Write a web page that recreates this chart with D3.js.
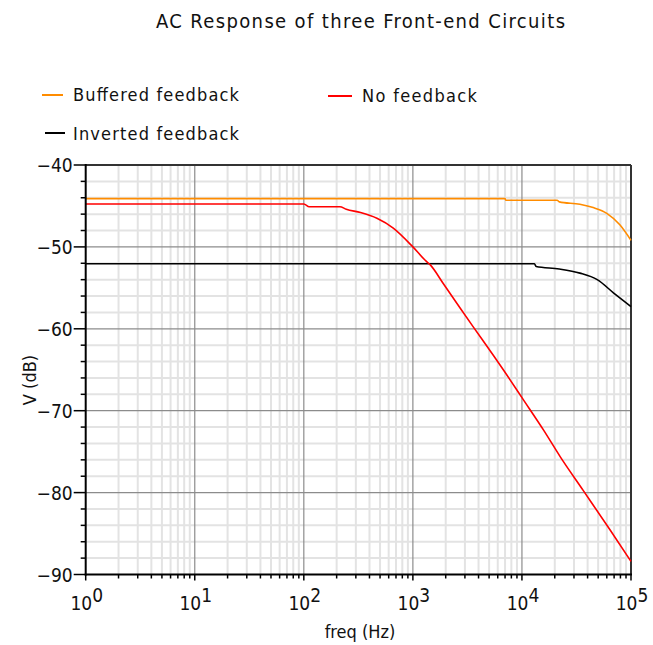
<!DOCTYPE html>
<html>
<head>
<meta charset="utf-8">
<script src="https://cdn.jsdelivr.net/npm/d3@7"></script>
<style>
  body { margin: 0; background: #fff; }
  text { font-family: "DejaVu Sans Condensed", "DejaVu Sans", sans-serif; fill: #111; }
</style>
</head>
<body>
<svg id="chart" width="653" height="645"></svg>
<script>
// series (freq in Hz, level in dB)
const bufferedFreq = [1, 7000, 7100, 21000, 22000, 34000, 45000, 60000, 79000, 100000];
const bufferedDb = [-44.1, -44.1, -44.3, -44.3, -44.5, -44.8, -45.2, -45.9, -47.3, -49.2];

const invertedFreq = [1, 13000, 13500, 22000, 34000, 49000, 69000, 100000];
const invertedDb = [-52.05, -52.05, -52.4, -52.7, -53.2, -54.0, -55.6, -57.3];

const noFbFreq = [1, 100, 112, 214, 245, 331, 468, 661, 1000, 1290, 1445, 1905, 2690, 3550,
                  5500, 7760, 10000, 15850, 22400, 36300, 64600, 100000];
const noFbDb = [-44.76, -44.76, -45.1, -45.1, -45.4, -45.8, -46.5, -47.7, -50.0, -51.6, -52.2,
                -54.5, -57.4, -59.7, -63.3, -66.2, -68.4, -72.4, -75.6, -79.7, -84.6, -88.4];

const yTicks = [-40, -50, -60, -70, -80, -90];
const xExponents = [0, 1, 2, 3, 4, 5];

const legendNames = ['Buffered feedback', 'No feedback', 'Inverted feedback'];
const legendColors = ['#ff8c00', '#ff0000', '#000000'];

const plotL = 85.7, plotR = 631, plotT = 165, plotB = 574.5;

const svg = d3.select('#chart');

const x = d3.scaleLog().domain([1, 1e5]).range([plotL, plotR]);
const y = d3.scaleLinear().domain([-90, -40]).range([plotB, plotT]);

// minor grid
const minorX = [];
for (let e = 0; e < 5; e++) {
    for (let k = 2; k <= 9; k++) minorX.push(k * Math.pow(10, e));
}
const minorY = d3.range(-90, -39, 2).filter(v => v % 10 !== 0);

const grid = svg.append('g');
grid.selectAll('.mx').data(minorX).join('line')
    .attr('x1', d => x(d)).attr('x2', d => x(d))
    .attr('y1', plotT).attr('y2', plotB)
    .style('stroke', '#e3e3e3').style('stroke-width', 2);
grid.selectAll('.my').data(minorY).join('line')
    .attr('x1', plotL).attr('x2', plotR)
    .attr('y1', d => y(d)).attr('y2', d => y(d))
    .style('stroke', '#e3e3e3').style('stroke-width', 2);

// major grid
grid.selectAll('.gx').data(xExponents.slice(1, 5)).join('line')
    .attr('x1', d => x(Math.pow(10, d))).attr('x2', d => x(Math.pow(10, d)))
    .attr('y1', plotT).attr('y2', plotB)
    .style('stroke', '#8c8c8c').style('stroke-width', 1.2);
grid.selectAll('.gy').data(yTicks.slice(1, 5)).join('line')
    .attr('x1', plotL).attr('x2', plotR)
    .attr('y1', d => y(d)).attr('y2', d => y(d))
    .style('stroke', '#8c8c8c').style('stroke-width', 1.2);

// frame (top and right)
svg.append('line').attr('x1', plotL).attr('x2', plotR).attr('y1', plotT).attr('y2', plotT)
    .style('stroke', '#333').style('stroke-width', 2);
svg.append('line').attr('x1', plotR).attr('x2', plotR).attr('y1', plotT).attr('y2', plotB)
    .style('stroke', '#333').style('stroke-width', 2);

// series
function drawSeries(freqs, dbs, color) {
    const pts = freqs.map((f, i) => [f, dbs[i]]);
    svg.append('path')
        .datum(pts)
        .attr('d', d3.line().curve(d3.curveMonotoneX).x(d => x(d[0])).y(d => y(d[1])))
        .style('fill', 'none')
        .style('stroke', color)
        .style('stroke-width', 1.6);
}
drawSeries(bufferedFreq, bufferedDb, legendColors[0]);
drawSeries(invertedFreq, invertedDb, legendColors[2]);
drawSeries(noFbFreq, noFbDb, legendColors[1]);

// y axis
const yAxis = svg.append('g');
yAxis.append('line').attr('x1', plotL).attr('x2', plotL).attr('y1', plotT - 1).attr('y2', plotB + 1)
    .style('stroke', '#000').style('stroke-width', 2);
yAxis.selectAll('.ymt').data(yTicks).join('line')
    .attr('x1', plotL - 12).attr('x2', plotL)
    .attr('y1', d => y(d)).attr('y2', d => y(d))
    .style('stroke', '#000').style('stroke-width', 1.5);
yAxis.selectAll('.ymn').data(minorY).join('line')
    .attr('x1', plotL - 5).attr('x2', plotL)
    .attr('y1', d => y(d)).attr('y2', d => y(d))
    .style('stroke', '#000').style('stroke-width', 1.5);
yAxis.selectAll('.ytl').data(yTicks).join('text')
    .attr('x', plotL - 13).attr('y', d => y(d) + 7)
    .attr('text-anchor', 'end')
    .style('font-size', '19px')
    .text(d => '\u2212' + Math.abs(d));

// x axis
const xAxis = svg.append('g');
xAxis.append('line').attr('x1', plotL - 1).attr('x2', plotR + 1).attr('y1', plotB).attr('y2', plotB)
    .style('stroke', '#000').style('stroke-width', 2);
xAxis.selectAll('.xmt').data(xExponents).join('line')
    .attr('x1', d => x(Math.pow(10, d))).attr('x2', d => x(Math.pow(10, d)))
    .attr('y1', plotB).attr('y2', plotB + 6)
    .style('stroke', '#000').style('stroke-width', 1.5);
xAxis.selectAll('.xmn').data(minorX).join('line')
    .attr('x1', d => x(d)).attr('x2', d => x(d))
    .attr('y1', plotB).attr('y2', plotB + 4)
    .style('stroke', '#000').style('stroke-width', 1.5);
const xl = xAxis.selectAll('.xtl').data(xExponents).join('text')
    .attr('x', d => x(Math.pow(10, d)) + 1)
    .attr('y', 610)
    .attr('text-anchor', 'middle')
    .style('font-size', '19px');
xl.append('tspan').text('10');
xl.append('tspan').attr('dy', -8).text(d => d);

// axis titles
svg.append('text')
    .attr('x', 360).attr('y', 638)
    .attr('text-anchor', 'middle')
    .style('font-size', '18px')
    .text('freq (Hz)');
svg.append('text')
    .attr('transform', 'translate(36,380) rotate(-90)')
    .attr('text-anchor', 'middle')
    .style('font-size', '18px')
    .text('V (dB)');

// title
svg.append('text')
    .attr('x', 156).attr('y', 28)
    .attr('textLength', 409).attr('lengthAdjust', 'spacing')
    .style('font-size', '20px')
    .text('AC Response of three Front-end Circuits');

// legend
const legendPos = [[42, 63, 95, 73, 101], [328, 352, 96, 362, 102], [45, 65, 133, 73, 140]];
const legendWidths = [166, 115, 166];
legendNames.forEach((name, i) => {
    const [lx1, lx2, ly, tx, ty] = legendPos[i];
    svg.append('line').attr('x1', lx1).attr('x2', lx2).attr('y1', ly).attr('y2', ly)
        .style('stroke', legendColors[i]).style('stroke-width', 2);
    svg.append('text')
        .attr('x', tx).attr('y', ty)
        .attr('textLength', legendWidths[i]).attr('lengthAdjust', 'spacing')
        .style('font-size', '18px')
        .text(name);
});
</script>
</body>
</html>
